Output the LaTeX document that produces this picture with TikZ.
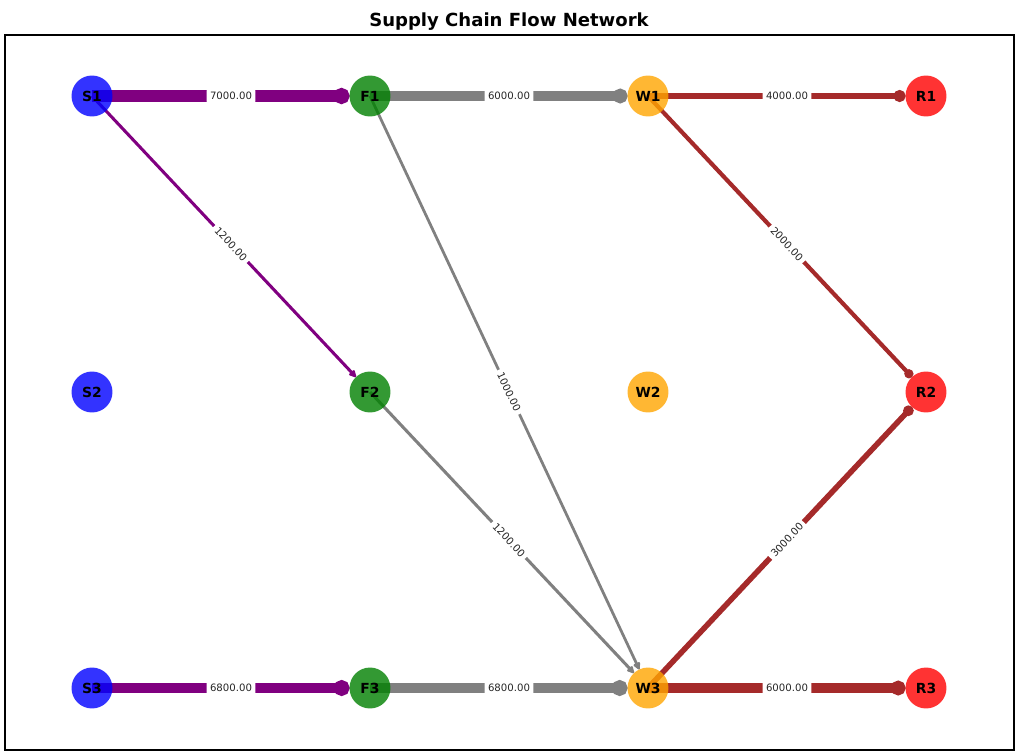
\documentclass[tikz,border=0pt]{standalone}
\usepackage{fontspec}
\setmainfont{DejaVu Sans}
\usetikzlibrary{arrows.meta}
\pgfdeclarelayer{bg}
\pgfsetlayers{bg,main}
\definecolor{supc}{RGB}{0,0,255}
\definecolor{facc}{RGB}{0,128,0}
\definecolor{whc}{RGB}{255,165,0}
\definecolor{retc}{RGB}{255,0,0}
\definecolor{sfc}{RGB}{128,0,128}
\definecolor{fwc}{RGB}{128,128,128}
\definecolor{wrc}{RGB}{165,42,42}
\begin{document}
\begin{tikzpicture}[x=0.72pt,y=-0.72pt,
  nd/.style={circle, minimum size=29.5pt, inner sep=0pt, fill opacity=0.8, text opacity=1,
    font=\bfseries\fontsize{10}{12}\selectfont},
  flow/.style={line width=#1, -{Circle[length=3.5pt 1]}, shorten >=14.76pt},
  thinflow/.style={line width=#1, -{Triangle[round,length=6pt,width=5.5pt]}, shorten >=14.76pt},
  lbl/.style={midway, sloped, fill=white, rounded corners=1.5pt, inner sep=2.5pt,
    text=black!85, font=\fontsize{7.3}{8.5}\selectfont}]
\useasboundingbox (0,0) rectangle (1020,752);
\node[font=\bfseries\fontsize{13}{15}\selectfont] (title) at (509,22) {Supply Chain Flow Network};
\node[nd, fill=supc] (S1) at (92,96) {S1};
\node[nd, fill=supc] (S2) at (92,392) {S2};
\node[nd, fill=supc] (S3) at (92,688) {S3};
\node[nd, fill=facc] (F1) at (370,96) {F1};
\node[nd, fill=facc] (F2) at (370,392) {F2};
\node[nd, fill=facc] (F3) at (370,688) {F3};
\node[nd, fill=whc] (W1) at (648,96) {W1};
\node[nd, fill=whc] (W2) at (648,392) {W2};
\node[nd, fill=whc] (W3) at (648,688) {W3};
\node[nd, fill=retc] (R1) at (926,96) {R1};
\node[nd, fill=retc] (R2) at (926,392) {R2};
\node[nd, fill=retc] (R3) at (926,688) {R3};
\begin{pgfonlayer}{bg}
\draw[line width=0.8pt] (5,35) rectangle (1014,750);
\begin{scope}[draw=sfc]
\draw[flow=8pt] (S1.center) -- node[lbl]{7000.00} (F1.center);
\draw[thinflow=2.2pt] (S1.center) -- node[lbl]{1200.00} (F2.center);
\draw[flow=7.8pt] (S3.center) -- node[lbl]{6800.00} (F3.center);
\end{scope}
\begin{scope}[draw=fwc]
\draw[flow=7pt] (F1.center) -- node[lbl]{6000.00} (W1.center);
\draw[thinflow=2pt] (F1.center) -- node[lbl]{1000.00} (W3.center);
\draw[thinflow=2.2pt] (F2.center) -- node[lbl]{1200.00} (W3.center);
\draw[flow=7.8pt] (F3.center) -- node[lbl]{6800.00} (W3.center);
\end{scope}
\begin{scope}[draw=wrc]
\draw[flow=5pt] (W1.center) -- node[lbl]{4000.00} (R1.center);
\draw[flow=3pt] (W1.center) -- node[lbl]{2000.00} (R2.center);
\draw[flow=4pt] (W3.center) -- node[lbl]{3000.00} (R2.center);
\draw[flow=7pt] (W3.center) -- node[lbl]{6000.00} (R3.center);
\end{scope}
\end{pgfonlayer}
\end{tikzpicture}
\end{document}
